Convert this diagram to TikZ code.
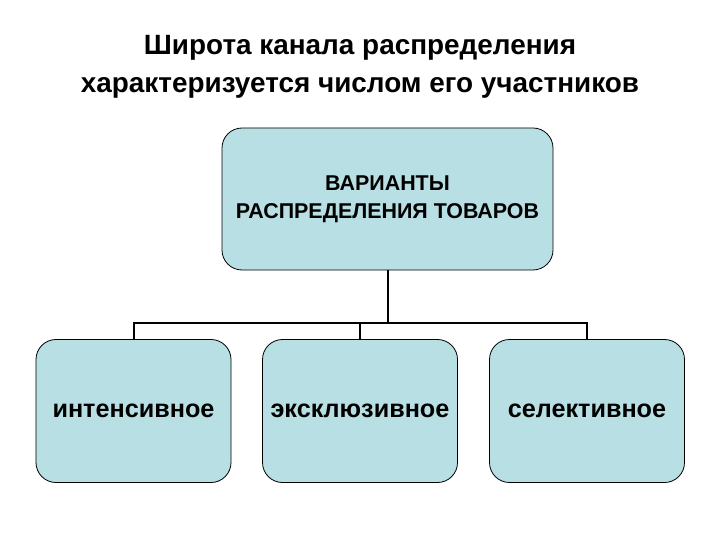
\documentclass[tikz,border=0pt]{standalone}
\usepackage{fontspec}
\setmainfont{Liberation Sans}
\begin{document}
\begin{tikzpicture}[
        x=1bp, y=-1bp,
        font=\bfseries,
        box/.style={
            draw=black,
            fill=boxblue,
            line width=0.8bp,
            rounded corners=20bp,
            align=center,
            inner sep=0pt
        },
        topbox/.style={box, minimum width=331bp, minimum height=142bp,
            font=\fontsize{21.5}{28}\selectfont\bfseries},
        leafbox/.style={box, minimum width=195bp, minimum height=143bp,
            font=\fontsize{25.3}{28}\selectfont\bfseries},
        line/.style={draw, line width=2bp}
    ]
        \definecolor{boxblue}{RGB}{184,223,227}
        \useasboundingbox (0,0) rectangle (720,540);

        \node[align=center, font=\fontsize{28}{38}\selectfont\bfseries] (title) at (360,67)
            {Широта канала распределения\\характеризуется числом его участников};

        \node[topbox] (variants) at (387.5,199) {ВАРИАНТЫ\\РАСПРЕДЕЛЕНИЯ ТОВАРОВ};

        \node[leafbox] (intensive) at (133.5,411) {интенсивное};
        \node[leafbox] (exclusive) at (360,411) {эксклюзивное};
        \node[leafbox] (selective) at (587,411) {селективное};

        \coordinate (topline) at (387.5,323);
        \draw[line] (variants.south) -- (topline);
        \draw[line] (intensive.north) |- (topline) -| (selective.north);
        \draw[line] (exclusive.north) -- (exclusive |- topline);
    \end{tikzpicture}
\end{document}
